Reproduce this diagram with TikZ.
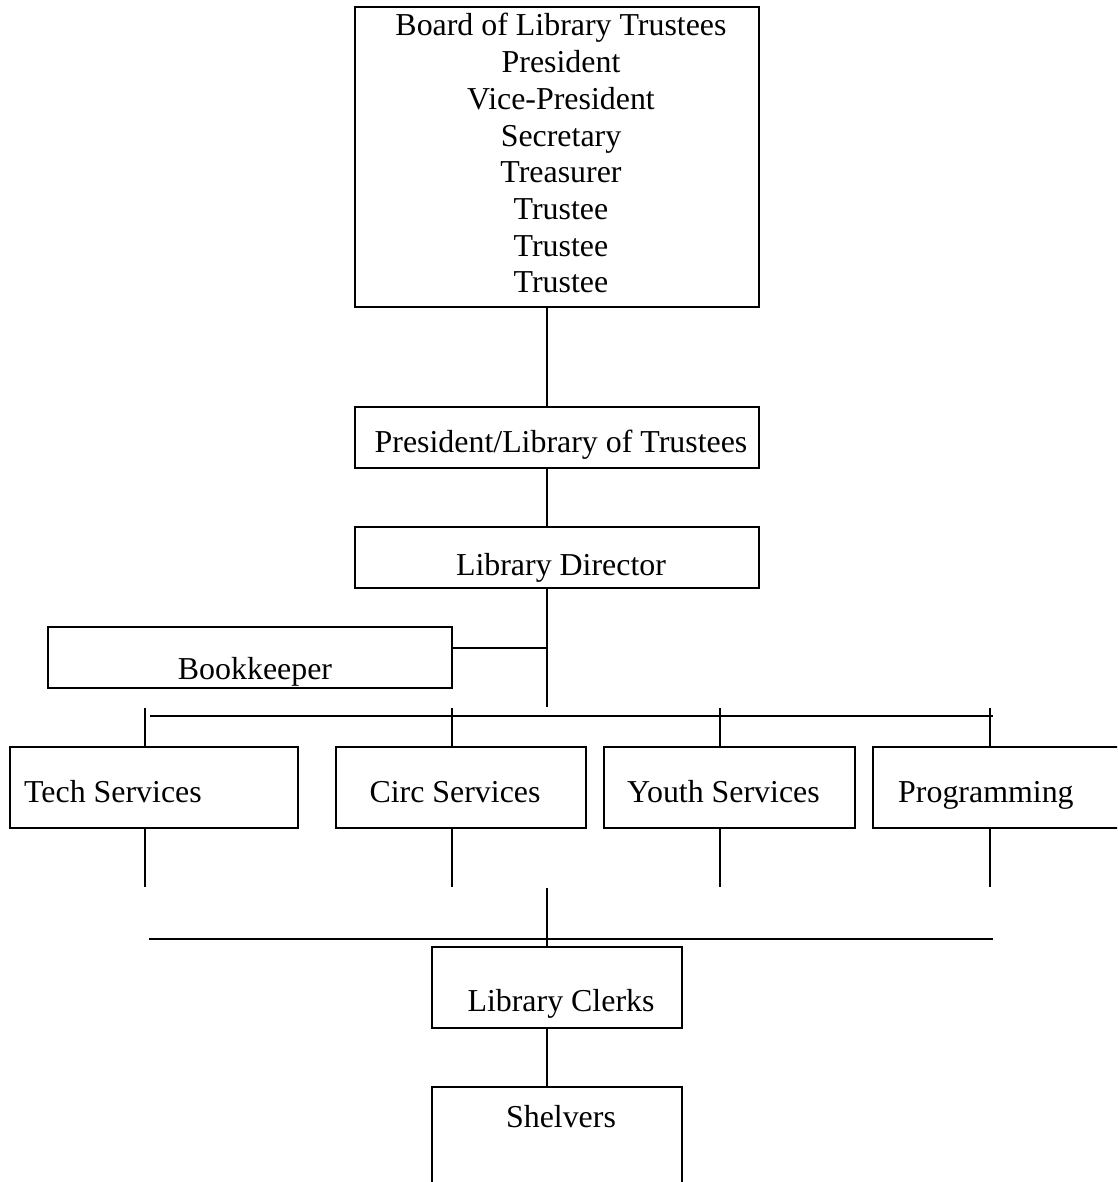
\documentclass[tikz,border=0pt]{standalone}
\usepackage{fontspec}
\setmainfont{Liberation Serif}
\begin{document}
\begin{tikzpicture}[x=1pt,y=-1pt,
  box/.style={draw, line width=2.2pt, inner sep=0pt, rectangle},
  ln/.style={line width=2.2pt},
  txt/.style={inner sep=0pt, anchor=base, font=\fontsize{31.9}{36.7}\selectfont},
  txtl/.style={txt, anchor=base west}]
\useasboundingbox (0,0) rectangle (1117,1182);
\clip (0,0) rectangle (1117,1182);
% boxes
\node[box, minimum width=404pt, minimum height=300pt] (board) at (557,157) {};
\node[box, minimum width=404pt, minimum height=61pt] (pres) at (557,437.5) {};
\node[box, minimum width=404pt, minimum height=61pt] (dir) at (557,557.5) {};
\node[box, minimum width=404pt, minimum height=61pt] (book) at (250,657.5) {};
\node[box, minimum width=288pt, minimum height=81pt] (tech) at (154,787.5) {};
\node[box, minimum width=250pt, minimum height=81pt] (circ) at (461,787.5) {};
\node[box, minimum width=251pt, minimum height=81pt] (youth) at (729.5,787.5) {};
\node[box, minimum width=267pt, minimum height=81pt] (prog) at (1006.5,787.5) {};
\node[box, minimum width=250pt, minimum height=81pt] (clerks) at (557,987.5) {};
\node[box, minimum width=250pt, minimum height=133pt] (shelv) at (557,1153.5) {};
% texts
\foreach \t [count=\i from 0] in {Board of Library Trustees,President,Vice-President,Secretary,Treasurer,Trustee,Trustee,Trustee}
  \node[txt] (bl\i) at (561,36+36.7*\i) {\t};
\node[txt] (prest) at (561,452) {President/Library of Trustees};
\node[txt] (dirt) at (561,575) {Library Director};
\node[txt] (bookt) at (255,679) {Bookkeeper};
\node[txtl] (techt) at (24,802) {Tech Services};
\node[txt] (circt) at (455,802) {Circ Services};
\node[txtl] (youtht) at (627,802) {Youth Services};
\node[txtl] (progt) at (898,802) {Programming};
\node[txt] (clerkst) at (561,1011) {Library Clerks};
\node[txt] (shelvt) at (561,1127) {Shelvers};
% coordinates
\coordinate (sp) at (547,0);
\coordinate (j1) at (547,707);
\coordinate (bkj) at (547,648);
\coordinate (busL) at (150,716);
\coordinate (busR) at (993,716);
\coordinate (c1) at (145,708);
\coordinate (c2) at (452,708);
\coordinate (c3) at (720,708);
\coordinate (c4) at (990,708);
\coordinate (d1) at (145,887);
\coordinate (d2) at (452,887);
\coordinate (d3) at (720,887);
\coordinate (d4) at (990,887);
\coordinate (j2) at (547,888);
\coordinate (bus2L) at (149,939);
\coordinate (bus2R) at (993,939);
% connectors
\draw[ln] (board.south -| sp) -- (pres.north -| sp);
\draw[ln] (pres.south -| sp) -- (dir.north -| sp);
\draw[ln] (dir.south -| sp) -- (j1);
\draw[ln] (bkj -| book.east) -- (bkj);
\draw[ln] (busL) -- (busR);
\draw[ln] (c1) -- (c1 |- tech.north);
\draw[ln] (c2) -- (c2 |- circ.north);
\draw[ln] (c3) -- (c3 |- youth.north);
\draw[ln] (c4) -- (c4 |- prog.north);
\draw[ln] (d1 |- tech.south) -- (d1);
\draw[ln] (d2 |- circ.south) -- (d2);
\draw[ln] (d3 |- youth.south) -- (d3);
\draw[ln] (d4 |- prog.south) -- (d4);
\draw[ln] (bus2L) -- (bus2R);
\draw[ln] (j2) -- (clerks.north -| sp);
\draw[ln] (clerks.south -| sp) -- (shelv.north -| sp);
\end{tikzpicture}
\end{document}
